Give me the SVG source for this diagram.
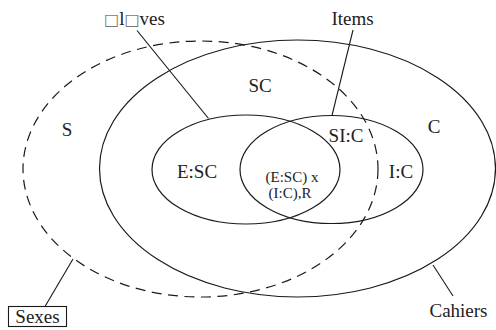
<svg xmlns="http://www.w3.org/2000/svg" width="496" height="330" viewBox="0 0 496 330">
<style>
.o{fill:none;stroke:#1a1a1a;stroke-width:1.2}
.d{fill:none;stroke:#1a1a1a;stroke-width:1.2;stroke-dasharray:10 6.5}
text{font-family:'Liberation Serif','Times New Roman',Tinos,'DejaVu Serif',serif;fill:#222;text-anchor:middle}
.t{font-size:19px}
.s{font-size:15px}
.b{font-family:'DejaVu Sans',sans-serif;font-size:16px}
.l{stroke:#1a1a1a;stroke-width:1.1;fill:none}
</style>
<rect width="496" height="330" fill="#fff"/>
<g id="cahiers">
<ellipse class="o" cx="297.5" cy="168.5" rx="198" ry="128.5"/>
<text class="t" x="458.5" y="317" font-family="Liberation Serif, serif">Cahiers</text>
</g>
<g id="sexes">
<ellipse class="d" cx="200.5" cy="169" rx="177.5" ry="128"/>
<rect x="8.5" y="306.5" width="58" height="20" fill="#fff" stroke="#1a1a1a" stroke-width="1.1"/>
<text class="t" x="37.5" y="323" font-family="Liberation Serif, serif">Sexes</text>
</g>
<g id="eleves">
<ellipse class="o" cx="246" cy="169.5" rx="94" ry="54.5"/>
<text class="t" x="134.5" y="25" font-family="Liberation Serif, serif"><tspan class="b" fill="#777">□</tspan>l<tspan class="b" fill="#777">□</tspan>ves</text>
</g>
<g id="items">
<ellipse class="o" cx="331.5" cy="169.5" rx="91.5" ry="54"/>
<text class="t" x="352.5" y="25" font-family="Liberation Serif, serif">Items</text>
</g>
<g id="labels" font-family="Liberation Serif, serif">
<text class="t" x="67" y="136">S</text>
<text class="t" x="260" y="92">SC</text>
<text class="t" x="434" y="133">C</text>
<text class="t" x="346" y="142">SI:C</text>
<text class="t" x="197" y="178">E:SC</text>
<text class="s" x="292" y="182">(E:SC) x</text>
<text class="s" x="290" y="198">(I:C),R</text>
<text class="t" x="401" y="178">I:C</text>
</g>
<g id="connectors">
<line class="l" x1="137" y1="30.5" x2="208.5" y2="118.5"/>
<line class="l" x1="353" y1="30" x2="332" y2="115.5"/>
<line class="l" x1="73" y1="259" x2="45" y2="306.5"/>
<line class="l" x1="433" y1="265" x2="453" y2="296"/>
</g>
</svg>
